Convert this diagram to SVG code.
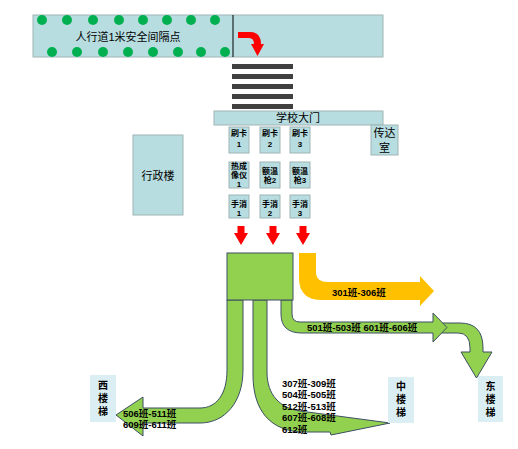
<svg xmlns="http://www.w3.org/2000/svg" width="518" height="449" viewBox="0 0 518 449">
<style>
text{font-family:"Liberation Sans","Noto Sans CJK SC",sans-serif;fill:#000;dominant-baseline:central;text-anchor:middle}
.box{fill:#B7DDE0;stroke:#9FB3B5;stroke-width:1}
.stair{fill:#DAEEF3}
.dot{fill:#00B050}
.t11{font-size:11px}
.t8{font-size:8px;font-weight:bold}
.lbl{font-size:9.5px;font-weight:bold;text-anchor:start}
.stairt{font-size:10px;font-weight:bold}
.g{fill:#92D050;stroke:#3C4F63;stroke-width:1}
.red{fill:#FF0000}
.stripe{fill:#404040}
</style>
<rect width="518" height="449" fill="#fff"/>
<g id="sidewalk">
<rect class="box" x="33" y="15" width="350" height="42"/>
<line x1="233" y1="15" x2="233" y2="57" stroke="#000" stroke-width="1"/>
<g>
<circle class="dot" cx="42" cy="20" r="5"/><circle class="dot" cx="67" cy="20" r="5"/><circle class="dot" cx="93" cy="20" r="5"/><circle class="dot" cx="119" cy="20" r="5"/><circle class="dot" cx="143" cy="20" r="5"/><circle class="dot" cx="167" cy="20" r="5"/><circle class="dot" cx="191" cy="20" r="5"/><circle class="dot" cx="215" cy="20" r="5"/>
<circle class="dot" cx="52" cy="52" r="5"/><circle class="dot" cx="77" cy="52" r="5"/><circle class="dot" cx="103" cy="52" r="5"/><circle class="dot" cx="128" cy="52" r="5"/><circle class="dot" cx="153" cy="52" r="5"/><circle class="dot" cx="178" cy="52" r="5"/><circle class="dot" cx="201" cy="52" r="5"/><circle class="dot" cx="225" cy="52" r="5"/>
</g>
<text class="t11" x="128" y="37">人行道1米安全间隔点</text>
<path class="red" d="M238,32 L250,32 Q261,32 261,44 L264,44 L257.5,56 L251,44 L254,44 Q254,38 249,38 L238,38 Z"/>
</g>
<g id="crosswalk">
<rect class="stripe" x="232" y="64" width="61" height="5"/>
<rect class="stripe" x="232" y="74" width="61" height="5"/>
<rect class="stripe" x="232" y="84" width="61" height="5"/>
<rect class="stripe" x="232" y="94" width="61" height="5"/>
<rect class="stripe" x="232" y="104" width="61" height="5"/>
</g>
<g id="gate">
<rect class="box" x="214" y="111" width="169" height="14"/>
<text class="t11" x="298" y="118">学校大门</text>
</g>
<g id="card1"><rect class="box" x="229" y="127" width="20" height="26"/><text class="t8" x="239" y="133">刷卡</text><text class="t8" x="239" y="144">1</text></g>
<g id="card2"><rect class="box" x="260" y="127" width="20" height="26"/><text class="t8" x="270" y="133">刷卡</text><text class="t8" x="270" y="144">2</text></g>
<g id="card3"><rect class="box" x="290" y="127" width="20" height="26"/><text class="t8" x="300" y="133">刷卡</text><text class="t8" x="300" y="144">3</text></g>
<g id="guard"><rect class="box" x="371" y="125" width="27" height="30"/><text class="t11" x="384.5" y="133">传达</text><text class="t11" x="384.5" y="148">室</text></g>
<g id="admin"><rect class="box" x="133" y="135" width="50" height="80"/><text class="t11" x="158" y="176">行政楼</text></g>
<g id="thermal1"><rect class="box" x="229" y="162" width="20" height="26"/><text class="t8" x="239" y="166">热成</text><text class="t8" x="239" y="175">像仪</text><text class="t8" x="239" y="184">1</text></g>
<g id="thermo2"><rect class="box" x="260" y="162" width="20" height="26"/><text class="t8" x="270" y="171">额温</text><text class="t8" x="270" y="180">枪2</text></g>
<g id="thermo3"><rect class="box" x="290" y="162" width="20" height="26"/><text class="t8" x="300" y="171">额温</text><text class="t8" x="300" y="180">枪3</text></g>
<g id="sani1"><rect class="box" x="229" y="195" width="20" height="23"/><text class="t8" x="239" y="204">手消</text><text class="t8" x="239" y="213">1</text></g>
<g id="sani2"><rect class="box" x="260" y="195" width="20" height="23"/><text class="t8" x="270" y="204">手消</text><text class="t8" x="270" y="213">2</text></g>
<g id="sani3"><rect class="box" x="290" y="195" width="20" height="23"/><text class="t8" x="300" y="204">手消</text><text class="t8" x="300" y="213">3</text></g>
<g id="connectors">
<path class="red" d="M237.5,226 L244.5,226 L244.5,233 L248,233 L241,245 L234,233 L237.5,233 Z"/>
<path class="red" d="M269.5,226 L276.5,226 L276.5,233 L280,233 L273,245 L266,233 L269.5,233 Z"/>
<path class="red" d="M299.5,226 L306.5,226 L306.5,233 L310,233 L303,245 L296,233 L299.5,233 Z"/>
<path fill="#FFC000" d="M299,253 L316,253 L316,272 Q316,282 328,282 L420,282 L420,276 L434,291 L420,306 L420,300 L322,300 Q299,300 299,278 Z"/>
<path class="g" d="M440,323 L460,323 Q483,323 483,348 L483,352 L492,352 L476.5,378 L461,352 L470,352 L470,348 Q470,333 458,333 L440,333 Z"/>
<path class="g" d="M281,300 L292,300 L292,314 Q292,322 300,322 L433,322 L433,313 L447,327.5 L433,342 L433,333 L302,333 Q281,333 281,314 Z"/>
<path class="g" d="M227,300 L243,300 L243,370 C243,402 225,423 200,423 L143,423 L143,436 L116,415 L143,397 L143,408 L200,408 C216,408 227,395 227,370 Z"/>
<path class="g" d="M253,300 L267,300 L267,372 C267,395 280,408 300,411 L390,423 L331,435 L330,432 L305,432 C270,432 253,410 253,375 Z"/>
<rect class="g" x="227" y="253" width="66" height="47"/>
</g>
<g id="labels">
<text class="lbl" x="332" y="292">301班-306班</text>
<text class="lbl" x="307" y="327.5">501班-503班  601班-606班</text>
<text class="lbl" x="123" y="413">506班-511班</text>
<text class="lbl" x="123" y="424">609班-611班</text>
<text class="lbl" x="282" y="383">307班-309班</text>
<text class="lbl" x="282" y="394.5">504班-505班</text>
<text class="lbl" x="282" y="406">512班-513班</text>
<text class="lbl" x="282" y="417.5">607班-608班</text>
<text class="lbl" x="282" y="429">612班</text>
</g>
<g id="west"><rect class="stair" x="90" y="375" width="26" height="47"/><text class="stairt" x="103" y="385">西</text><text class="stairt" x="103" y="398">楼</text><text class="stairt" x="103" y="411">梯</text></g>
<g id="middle"><rect class="stair" x="388" y="377" width="26" height="46"/><text class="stairt" x="401" y="386">中</text><text class="stairt" x="401" y="399">楼</text><text class="stairt" x="401" y="412">梯</text></g>
<g id="east"><rect class="stair" x="478" y="376" width="25" height="46"/><text class="stairt" x="490.5" y="386">东</text><text class="stairt" x="490.5" y="399">楼</text><text class="stairt" x="490.5" y="412">梯</text></g>
</svg>
